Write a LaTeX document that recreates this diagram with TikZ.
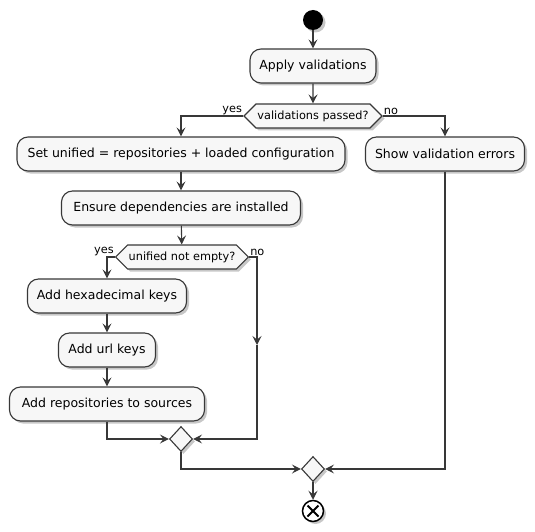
\documentclass[tikz,border=0pt]{standalone}
\usepackage{fontspec}
\setmainfont{DejaVu Sans}
\usetikzlibrary{arrows.meta,shapes.symbols,shapes.geometric,shadows}
\definecolor{boxfill}{HTML}{F7F7F7}
\definecolor{lineclr}{HTML}{383838}
\tikzset{
  shade box/.style={drop shadow={shadow xshift=2.5pt,shadow yshift=-2.5pt,fill=black,opacity=0.22}},
  action/.style={draw=lineclr,fill=boxfill,line width=1.1pt,rounded corners=11pt,
    minimum height=34pt,inner sep=0pt,font=\fontsize{12.5}{14}\selectfont,shade box},
  decision/.style={signal,signal to=west and east,signal pointer angle=90,draw=lineclr,
    fill=boxfill,line width=1.1pt,minimum height=24pt,inner xsep=1pt,inner ysep=0pt,
    font=\fontsize{11.3}{13}\selectfont,shade box},
  merge/.style={diamond,draw=lineclr,fill=boxfill,line width=1.1pt,minimum width=23pt,
    minimum height=25pt,inner sep=0pt,shade box},
  branch/.style={font=\fontsize{11.3}{13}\selectfont,inner sep=1pt},
  flow/.style={draw=lineclr,line width=1.1pt,-{Stealth[length=9pt,width=9pt,inset=3.5pt]}},
}
\begin{document}
\begin{tikzpicture}[x=1pt,y=-1pt]
	\useasboundingbox (0,0) rectangle (535,532);
	% start and first check
	\node[circle,fill=black,minimum size=20pt,inner sep=0pt,shade box] (start) at (313,20) {};
	\node[action,minimum width=126pt] (apply) at (313,66) {Apply validations};
	\node[decision,minimum width=138pt] (passed) at (313,116) {validations passed?};
	\node[branch,anchor=south east] (yes1) at (passed.west) {yes};
	\node[branch,anchor=south west] (no1) at (passed.east) {no};
	% both branches
	\node[action,minimum width=328pt] (unified) at (181,154) {Set unified = repositories + loaded configuration};
	\node[action,minimum width=159pt] (errors) at (445,154) {Show validation errors};
	\node[action,minimum width=239pt] (ensure) at (181,208) {Ensure dependencies are installed};
	\node[decision,minimum width=130pt] (notempty) at (182,257) {unified not empty?};
	\node[branch,anchor=south east] (yes2) at (notempty.west) {yes};
	\node[branch,anchor=south west] (no2) at (notempty.east) {no};
	\node[action,minimum width=159pt] (hexkeys) at (107,296) {Add hexadecimal keys};
	\node[action,minimum width=97pt] (urlkeys) at (107,350) {Add url keys};
	\node[action,minimum width=195pt] (sources) at (107,404) {Add repositories to sources};
	\coordinate (skip) at (257,345);
	% merges and end
	\node[merge] (merge1) at (181,439) {};
	\node[merge] (merge2) at (313,469) {};
	\node[circle,draw=black,fill=white,line width=1.5pt,minimum size=21pt,inner sep=0pt,shade box] (stop) at (313,511) {};
	\draw[line width=2pt] (stop.center) ++(-5.5,-5.5) -- ++(11,11);
	\draw[line width=2pt] (stop.center) ++(-5.5,5.5) -- ++(11,-11);
	% connectors
	\draw[flow] (start) -- (apply);
	\draw[flow] (apply) -- (passed);
	\draw[flow] (passed.west) -| (unified.north);
	\draw[flow] (passed.east) -| (errors.north);
	\draw[flow] (unified) -- (ensure);
	\draw[flow] (ensure) -- (notempty);
	\draw[flow] (notempty.west) -| (hexkeys.north);
	\draw[flow] (notempty.east) -| (skip);
	\draw[flow] (skip) |- (merge1.east);
	\draw[flow] (hexkeys) -- (urlkeys);
	\draw[flow] (urlkeys) -- (sources);
	\draw[flow] (sources.south) |- (merge1.west);
	\draw[flow] (merge1.south) |- (merge2.west);
	\draw[flow] (errors.south) |- (merge2.east);
	\draw[flow] (merge2) -- (stop);
\end{tikzpicture}
\end{document}
